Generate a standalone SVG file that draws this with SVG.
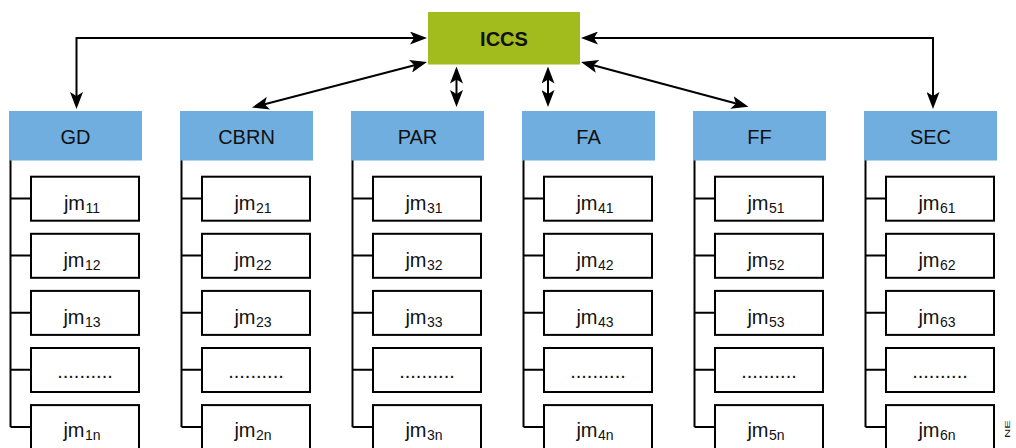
<svg xmlns="http://www.w3.org/2000/svg" width="1016" height="448" viewBox="0 0 1016 448">
<defs>
<style>
.hdr{fill:#6FAEDE}
.ht{font-family:"Liberation Sans",Arial,sans-serif;font-size:20px;fill:#111;text-anchor:middle}
.jm{fill:#fff;stroke:#000;stroke-width:2}
.jt{font-family:"Liberation Sans",Arial,sans-serif;font-size:20px;fill:#111;text-anchor:middle}
.sub{font-size:14px}
.ln{fill:none;stroke:#000;stroke-width:2}
.ar{fill:none;stroke:#000;stroke-width:2;marker-start:url(#ah);marker-end:url(#ah)}
</style>
<marker id="ah" markerUnits="userSpaceOnUse" markerWidth="17" markerHeight="13" refX="13" refY="6.5" orient="auto-start-reverse" viewBox="0 0 17 13">
<path d="M0,0 L17,6.5 L0,13 L4,6.5 Z" fill="#000"/>
</marker>
</defs>
<rect width="1016" height="448" fill="#fff"/>

<g id="connectors">
<path class="ar" d="M423,38 H76.5 V105"/>
<path class="ar" d="M423.1,63 L255.9,106.5"/>
<path class="ar" d="M456.5,70.5 V103"/>
<path class="ar" d="M548,70.5 V103"/>
<path class="ar" d="M584.9,63 L744.6,105.8"/>
<path class="ar" d="M585,38 H933 V105"/>
<g id="tree-lines">
<path class="ln" d="M10.5,160 V427 M10.5,198.5 H30 M10.5,255.6 H30 M10.5,312.7 H30 M10.5,369.8 H30 M10.5,426.9 H30"/>
<path class="ln" d="M181.5,160 V427 M181.5,198.5 H201 M181.5,255.6 H201 M181.5,312.7 H201 M181.5,369.8 H201 M181.5,426.9 H201"/>
<path class="ln" d="M352.5,160 V427 M352.5,198.5 H372 M352.5,255.6 H372 M352.5,312.7 H372 M352.5,369.8 H372 M352.5,426.9 H372"/>
<path class="ln" d="M523.5,160 V427 M523.5,198.5 H543 M523.5,255.6 H543 M523.5,312.7 H543 M523.5,369.8 H543 M523.5,426.9 H543"/>
<path class="ln" d="M694.5,160 V427 M694.5,198.5 H714 M694.5,255.6 H714 M694.5,312.7 H714 M694.5,369.8 H714 M694.5,426.9 H714"/>
<path class="ln" d="M865.5,160 V427 M865.5,198.5 H885 M865.5,255.6 H885 M865.5,312.7 H885 M865.5,369.8 H885 M865.5,426.9 H885"/>
</g>
</g>

<g id="ICCS">
<rect x="428" y="12" width="152" height="52.5" fill="#A3BC1D"/>
<text x="504" y="45.5" font-family="Liberation Sans,Arial,sans-serif" font-size="20" font-weight="bold" text-anchor="middle" fill="#111">ICCS</text>
</g>

<g id="GD">
<rect class="hdr" x="9" y="111" width="133" height="49.5"/>
<text class="ht" x="75.5" y="143.5">GD</text>
<g id="jm11"><rect class="jm" x="31" y="176.7" width="108" height="44"/><text class="jt" x="82" y="209.5">jm<tspan class="sub" dx="0.5" dy="3">11</tspan></text></g>
<g id="jm12"><rect class="jm" x="31" y="233.8" width="108" height="44"/><text class="jt" x="82" y="266.6">jm<tspan class="sub" dx="0.5" dy="3">12</tspan></text></g>
<g id="jm13"><rect class="jm" x="31" y="290.9" width="108" height="44"/><text class="jt" x="82" y="323.7">jm<tspan class="sub" dx="0.5" dy="3">13</tspan></text></g>
<g id="jm1dots"><rect class="jm" x="31" y="348" width="108" height="44"/><text class="jt" x="85" y="378">..........</text></g>
<g id="jm1n"><rect class="jm" x="31" y="405.1" width="108" height="44"/><text class="jt" x="82" y="437">jm<tspan class="sub" dx="0.5" dy="3">1n</tspan></text></g>
</g>

<g id="CBRN">
<rect class="hdr" x="180" y="111" width="133" height="49.5"/>
<text class="ht" x="246.5" y="143.5">CBRN</text>
<g id="jm21"><rect class="jm" x="202" y="176.7" width="108" height="44"/><text class="jt" x="253" y="209.5">jm<tspan class="sub" dx="0.5" dy="3">21</tspan></text></g>
<g id="jm22"><rect class="jm" x="202" y="233.8" width="108" height="44"/><text class="jt" x="253" y="266.6">jm<tspan class="sub" dx="0.5" dy="3">22</tspan></text></g>
<g id="jm23"><rect class="jm" x="202" y="290.9" width="108" height="44"/><text class="jt" x="253" y="323.7">jm<tspan class="sub" dx="0.5" dy="3">23</tspan></text></g>
<g id="jm2dots"><rect class="jm" x="202" y="348" width="108" height="44"/><text class="jt" x="256" y="378">..........</text></g>
<g id="jm2n"><rect class="jm" x="202" y="405.1" width="108" height="44"/><text class="jt" x="253" y="437">jm<tspan class="sub" dx="0.5" dy="3">2n</tspan></text></g>
</g>

<g id="PAR">
<rect class="hdr" x="351" y="111" width="133" height="49.5"/>
<text class="ht" x="417.5" y="143.5">PAR</text>
<g id="jm31"><rect class="jm" x="373" y="176.7" width="108" height="44"/><text class="jt" x="424" y="209.5">jm<tspan class="sub" dx="0.5" dy="3">31</tspan></text></g>
<g id="jm32"><rect class="jm" x="373" y="233.8" width="108" height="44"/><text class="jt" x="424" y="266.6">jm<tspan class="sub" dx="0.5" dy="3">32</tspan></text></g>
<g id="jm33"><rect class="jm" x="373" y="290.9" width="108" height="44"/><text class="jt" x="424" y="323.7">jm<tspan class="sub" dx="0.5" dy="3">33</tspan></text></g>
<g id="jm3dots"><rect class="jm" x="373" y="348" width="108" height="44"/><text class="jt" x="427" y="378">..........</text></g>
<g id="jm3n"><rect class="jm" x="373" y="405.1" width="108" height="44"/><text class="jt" x="424" y="437">jm<tspan class="sub" dx="0.5" dy="3">3n</tspan></text></g>
</g>

<g id="FA">
<rect class="hdr" x="522" y="111" width="133" height="49.5"/>
<text class="ht" x="588.5" y="143.5">FA</text>
<g id="jm41"><rect class="jm" x="544" y="176.7" width="108" height="44"/><text class="jt" x="595" y="209.5">jm<tspan class="sub" dx="0.5" dy="3">41</tspan></text></g>
<g id="jm42"><rect class="jm" x="544" y="233.8" width="108" height="44"/><text class="jt" x="595" y="266.6">jm<tspan class="sub" dx="0.5" dy="3">42</tspan></text></g>
<g id="jm43"><rect class="jm" x="544" y="290.9" width="108" height="44"/><text class="jt" x="595" y="323.7">jm<tspan class="sub" dx="0.5" dy="3">43</tspan></text></g>
<g id="jm4dots"><rect class="jm" x="544" y="348" width="108" height="44"/><text class="jt" x="598" y="378">..........</text></g>
<g id="jm4n"><rect class="jm" x="544" y="405.1" width="108" height="44"/><text class="jt" x="595" y="437">jm<tspan class="sub" dx="0.5" dy="3">4n</tspan></text></g>
</g>

<g id="FF">
<rect class="hdr" x="693" y="111" width="133" height="49.5"/>
<text class="ht" x="759.5" y="143.5">FF</text>
<g id="jm51"><rect class="jm" x="715" y="176.7" width="108" height="44"/><text class="jt" x="766" y="209.5">jm<tspan class="sub" dx="0.5" dy="3">51</tspan></text></g>
<g id="jm52"><rect class="jm" x="715" y="233.8" width="108" height="44"/><text class="jt" x="766" y="266.6">jm<tspan class="sub" dx="0.5" dy="3">52</tspan></text></g>
<g id="jm53"><rect class="jm" x="715" y="290.9" width="108" height="44"/><text class="jt" x="766" y="323.7">jm<tspan class="sub" dx="0.5" dy="3">53</tspan></text></g>
<g id="jm5dots"><rect class="jm" x="715" y="348" width="108" height="44"/><text class="jt" x="769" y="378">..........</text></g>
<g id="jm5n"><rect class="jm" x="715" y="405.1" width="108" height="44"/><text class="jt" x="766" y="437">jm<tspan class="sub" dx="0.5" dy="3">5n</tspan></text></g>
</g>

<g id="SEC">
<rect class="hdr" x="864" y="111" width="133" height="49.5"/>
<text class="ht" x="930.5" y="143.5">SEC</text>
<g id="jm61"><rect class="jm" x="886" y="176.7" width="108" height="44"/><text class="jt" x="937" y="209.5">jm<tspan class="sub" dx="0.5" dy="3">61</tspan></text></g>
<g id="jm62"><rect class="jm" x="886" y="233.8" width="108" height="44"/><text class="jt" x="937" y="266.6">jm<tspan class="sub" dx="0.5" dy="3">62</tspan></text></g>
<g id="jm63"><rect class="jm" x="886" y="290.9" width="108" height="44"/><text class="jt" x="937" y="323.7">jm<tspan class="sub" dx="0.5" dy="3">63</tspan></text></g>
<g id="jm6dots"><rect class="jm" x="886" y="348" width="108" height="44"/><text class="jt" x="940" y="378">..........</text></g>
<g id="jm6n"><rect class="jm" x="886" y="405.1" width="108" height="44"/><text class="jt" x="937" y="437">jm<tspan class="sub" dx="0.5" dy="3">6n</tspan></text></g>
</g>

<text transform="translate(1009.5,420) rotate(-90) scale(1,0.6)" text-anchor="end" font-family="Liberation Sans,Arial,sans-serif" font-size="13" fill="#111">NE</text>
</svg>
